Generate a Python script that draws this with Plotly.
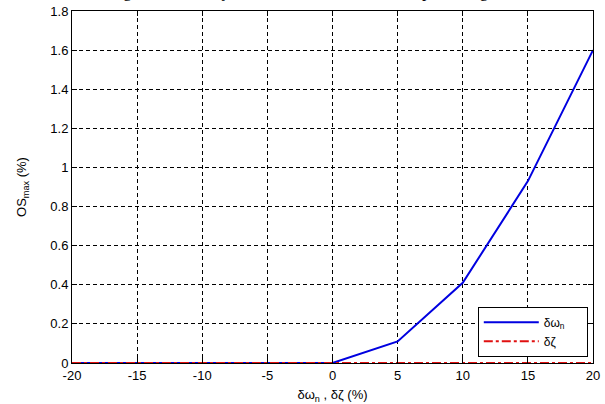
import plotly.graph_objects as go

x_vals = [-20, -15, -10, -5, 0, 5, 10, 15, 20]
os_wn = [0, 0, 0, 0, 0, 0.11, 0.41, 0.93, 1.60]
os_zeta = [0, 0, 0, 0, 0, 0, 0, 0, 0]
x_ticks = [-20, -15, -10, -5, 0, 5, 10, 15, 20]
x_tick_text = ["-20", "-15", "-10", "-5", "0", "5", "10", "15", "20"]
y_ticks = [0, 0.2, 0.4, 0.6, 0.8, 1.0, 1.2, 1.4, 1.6, 1.8]
y_tick_text = ["0", "0.2", "0.4", "0.6", "0.8", "1", "1.2", "1.4", "1.6", "1.8"]

fig = go.Figure()
fig.add_trace(go.Scatter(x=x_vals, y=os_wn, mode="lines", name="δω<sub>n</sub>     ",
                         line=dict(color="#0000e0", width=2)))
fig.add_trace(go.Scatter(x=x_vals, y=os_zeta, mode="lines", name="δζ",
                         line=dict(color="#e01010", width=2, dash="dashdot")))

axis_common = dict(showline=True, linecolor="black", linewidth=1, mirror="ticks",
                   ticks="inside", ticklen=5, tickcolor="black", automargin=False,
                   showgrid=True, gridcolor="black", gridwidth=1, griddash="4px,3px",
                   zeroline=False, tickfont=dict(family="Liberation Sans", size=13, color="black"))

fig.update_xaxes(range=[-20, 20], tickvals=x_ticks, ticktext=x_tick_text, **axis_common,
                 title=dict(text="δω<sub>n</sub> , δζ (%)", standoff=8,
                            font=dict(family="Liberation Sans", size=13, color="black")))
fig.update_yaxes(range=[0, 1.8], tickvals=y_ticks, ticktext=y_tick_text, **axis_common,
                 title=dict(text="OS<sub>max</sub> (%)", standoff=20,
                            font=dict(family="Liberation Sans", size=13, color="black")))

fig.add_annotation(text="Fig. 7. Sensitivity of the maximum overshoot percentage",
                   xref="paper", yref="paper", x=0.5, y=1.0, yshift=8, xshift=-30,
                   xanchor="center", yanchor="bottom", showarrow=False,
                   font=dict(family="Liberation Serif", size=17, color="black"))

fig.update_layout(
    width=605, height=404,
    margin=dict(l=72, r=12, t=11, b=41, autoexpand=False),
    plot_bgcolor="white", paper_bgcolor="white",
    showlegend=True,
    legend=dict(x=0.99, y=0.018, xanchor="right", yanchor="bottom",
                bgcolor="white", bordercolor="black", borderwidth=1,
                itemwidth=55,
                font=dict(family="Liberation Sans", size=12, color="black"),
                tracegroupgap=0),
)

fig.write_html("out.html")
